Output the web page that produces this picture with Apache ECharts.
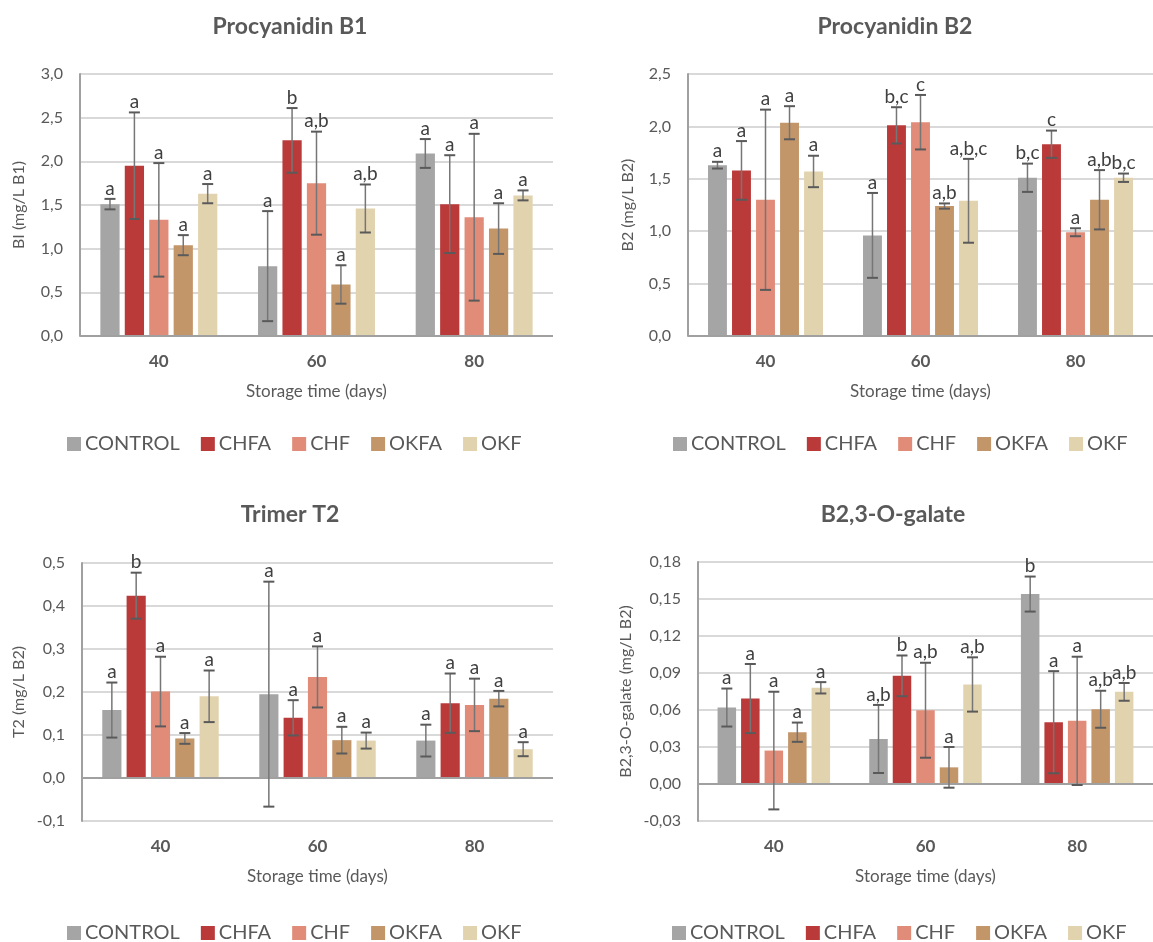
<!DOCTYPE html>
<html><head><meta charset="utf-8">
<script src="https://cdn.jsdelivr.net/npm/echarts@6/dist/echarts.min.js"></script>
<style>html,body{margin:0;padding:0;background:#fff}#c{width:1153px;height:942px}</style>
</head><body><div id="c"></div>
<script>
// ---------- DATA ----------
const categories = ['40', '60', '80'];
const seriesNames = ['CONTROL', 'CHFA', 'CHF', 'OKFA', 'OKF'];
const panelTitles = ['Procyanidin B1', 'Procyanidin B2', 'Trimer T2', 'B2,3-O-galate'];
const yAxisNames = ['BI (mg/L B1)', 'B2 (mg/L B2)', 'T2 (mg/L B2)', 'B2,3-O-galate (mg/L B2)'];
const xAxisName = 'Storage time (days)';
const yMin = [0, 0, -0.1, -0.03];
const yMax = [3.0, 2.5, 0.5, 0.18];
const yInterval = [0.5, 0.5, 0.1, 0.03];
const yDecimals = [1, 1, 1, 2];

// rows = series (CONTROL, CHFA, CHF, OKFA, OKF), cols = 40, 60, 80 days
const b1Mean = [[1.51, 0.80, 2.09], [1.95, 2.24, 1.51], [1.33, 1.75, 1.36], [1.04, 0.59, 1.23], [1.63, 1.46, 1.61]];
const b1Err  = [[0.06, 0.63, 0.165], [0.61, 0.37, 0.56], [0.65, 0.59, 0.955], [0.115, 0.22, 0.29], [0.11, 0.275, 0.057]];
const b1Letters = [['a','a','a'], ['a','b','a'], ['a','a,b','a'], ['a','a','a'], ['a','a,b','a']];

const b2Mean = [[1.63, 0.96, 1.51], [1.58, 2.01, 1.83], [1.30, 2.04, 0.99], [2.035, 1.24, 1.30], [1.57, 1.29, 1.51]];
const b2Err  = [[0.032, 0.405, 0.135], [0.28, 0.173, 0.13], [0.86, 0.26, 0.038], [0.158, 0.025, 0.283], [0.15, 0.40, 0.04]];
const b2Letters = [['a','a','b,c'], ['a','b,c','c'], ['a','c','a'], ['a','a,b','a,b'], ['a','a,b,c','b,c']];

const t2Mean = [[0.158, 0.195, 0.087], [0.424, 0.140, 0.174], [0.201, 0.235, 0.170], [0.092, 0.088, 0.1845], [0.190, 0.087, 0.067]];
const t2Err  = [[0.064, 0.2616, 0.037], [0.0535, 0.041, 0.069], [0.081, 0.071, 0.061], [0.0125, 0.031, 0.018], [0.060, 0.0186, 0.0163]];
const t2Letters = [['a','a','a'], ['b','a','a'], ['a','a','a'], ['a','a','a'], ['a','a','a']];

const galMean = [[0.062, 0.0365, 0.154], [0.0693, 0.0877, 0.0501], [0.0271, 0.0598, 0.0512], [0.042, 0.0135, 0.0606], [0.078, 0.0807, 0.0747]];
const galErr  = [[0.0154, 0.0276, 0.0142], [0.028, 0.0165, 0.0414], [0.0477, 0.0385, 0.052], [0.0078, 0.0165, 0.015], [0.0046, 0.022, 0.0072]];
const galLetters = [['a','a,b','b'], ['a','b','a'], ['a','a,b','a'], ['a','a','a,b'], ['a','a,b','a,b']];

const panelMeans = [b1Mean, b2Mean, t2Mean, galMean];
const panelErrs = [b1Err, b2Err, t2Err, galErr];
const panelLetters = [b1Letters, b2Letters, t2Letters, galLetters];

// ---------- STYLE / LAYOUT ----------
const seriesColors = ['#A5A5A5', '#BA3A3A', '#E08C79', '#C3966A', '#E2D3AF'];
const FONT = 'Lato, "Open Sans", sans-serif';
const TXT = '#595959';
const grids = [
  {left: 80, top: 74, width: 473, height: 262},
  {left: 688, top: 74, width: 465, height: 262},
  {left: 82, top: 563, width: 471, height: 258},
  {left: 698, top: 562, width: 455, height: 259}
];
const titlePos = [[285, 10], [890, 10], [285, 498], [888, 498]];
const legendPos = [[62, 429], [668, 429], [62, 918], [667, 918]];
const yNameGap = [53, 52, 55, 64];
const BAR_FRAC = 0.122, BAR_GAP = 0.27;

const option = {
  backgroundColor: '#fff',
  animation: false,
  textStyle: {fontFamily: FONT},
  title: [], legend: [], grid: [], xAxis: [], yAxis: [], series: []
};

for (let p = 0; p < 4; p++) {
  option.title.push({
    text: panelTitles[p], left: titlePos[p][0], top: titlePos[p][1], textAlign: 'center',
    textStyle: {fontFamily: FONT, fontSize: 23, fontWeight: 'bold', color: TXT}
  });
  option.legend.push({
    data: seriesNames, left: legendPos[p][0], top: legendPos[p][1],
    icon: 'rect', itemWidth: 14, itemHeight: 14, itemGap: 21,
    textStyle: {fontFamily: FONT, fontSize: 20, color: TXT, padding: [0, 0, 0, -1]}
  });
  option.grid.push(Object.assign({containLabel: false, outerBoundsMode: 'none'}, grids[p]));
  option.xAxis.push({
    type: 'category', gridIndex: p, data: categories,
    name: xAxisName, nameLocation: 'middle', nameGap: 47,
    nameTextStyle: {fontFamily: FONT, fontSize: 17, color: TXT},
    axisLine: {show: false}, axisTick: {show: false},
    axisLabel: {fontFamily: FONT, fontSize: 17, fontWeight: 'bold', color: TXT, margin: 17}
  });
  const dec = yDecimals[p];
  option.yAxis.push({
    type: 'value', gridIndex: p, min: yMin[p], max: yMax[p], interval: yInterval[p],
    name: yAxisNames[p], nameLocation: 'middle', nameGap: yNameGap[p],
    nameTextStyle: {fontFamily: FONT, fontSize: 16, color: TXT},
    axisLine: {show: true, lineStyle: {color: '#A0A0A0', width: 2}},
    axisTick: {show: false},
    axisLabel: {fontFamily: FONT, fontSize: 16, color: TXT, margin: 17,
      formatter: v => v.toFixed(dec).replace('.', ',')},
    splitLine: {show: true, lineStyle: {color: '#D9D9D9', width: 2}}
  });
  for (let s = 0; s < 5; s++) {
    const ser = {
      type: 'bar', name: seriesNames[s], xAxisIndex: p, yAxisIndex: p,
      data: panelMeans[p][s],
      barWidth: (BAR_FRAC * 100) + '%', barGap: (BAR_GAP * 100) + '%',
      itemStyle: {color: seriesColors[s]}
    };
    if (s === 0) {
      ser.markLine = {
        silent: true, symbol: 'none', label: {show: false},
        lineStyle: {color: '#A0A0A0', width: 2, type: 'solid'},
        data: [{yAxis: 0}]
      };
    }
    option.series.push(ser);
  }
  // error bars + letters
  const items = [], letters = [];
  for (let s = 0; s < 5; s++) {
    for (let c = 0; c < 3; c++) {
      items.push([c, panelMeans[p][s][c], panelErrs[p][s][c], s]);
      letters.push(panelLetters[p][s][c]);
    }
  }
  option.series.push({
    type: 'custom', name: 'err' + p, xAxisIndex: p, yAxisIndex: p, z: 10,
    encode: {x: 0, y: 1}, data: items,
    renderItem: function (params, api) {
      const cat = api.value(0), mean = api.value(1), err = api.value(2), si = api.value(3);
      const band = api.size([1, 0])[0];
      const bw = band * BAR_FRAC, step = bw * (1 + BAR_GAP);
      const x = api.coord([cat, mean])[0] + (si - 2) * step;
      const yT = api.coord([cat, mean + err])[1];
      const yB = api.coord([cat, mean - err])[1];
      const cw = 5.5;
      const st = {stroke: '#5A5A5A', lineWidth: 2};
      return {
        type: 'group',
        children: [
          {type: 'line', shape: {x1: x, y1: yT, x2: x, y2: yB}, style: {stroke: '#767676', lineWidth: 1.5}},
          {type: 'line', shape: {x1: x - cw, y1: yT, x2: x + cw, y2: yT}, style: st},
          {type: 'line', shape: {x1: x - cw, y1: yB, x2: x + cw, y2: yB}, style: st},
          {type: 'text', x: x, y: yT - 1, style: {
            text: letters[params.dataIndex], textAlign: 'center', textVerticalAlign: 'bottom',
            fontFamily: FONT, fontSize: 19, fill: '#404040'}}
        ]
      };
    }
  });
}

const chart = echarts.init(document.getElementById('c'), null, {renderer: 'canvas'});
chart.setOption(option);
</script>
</body></html>
